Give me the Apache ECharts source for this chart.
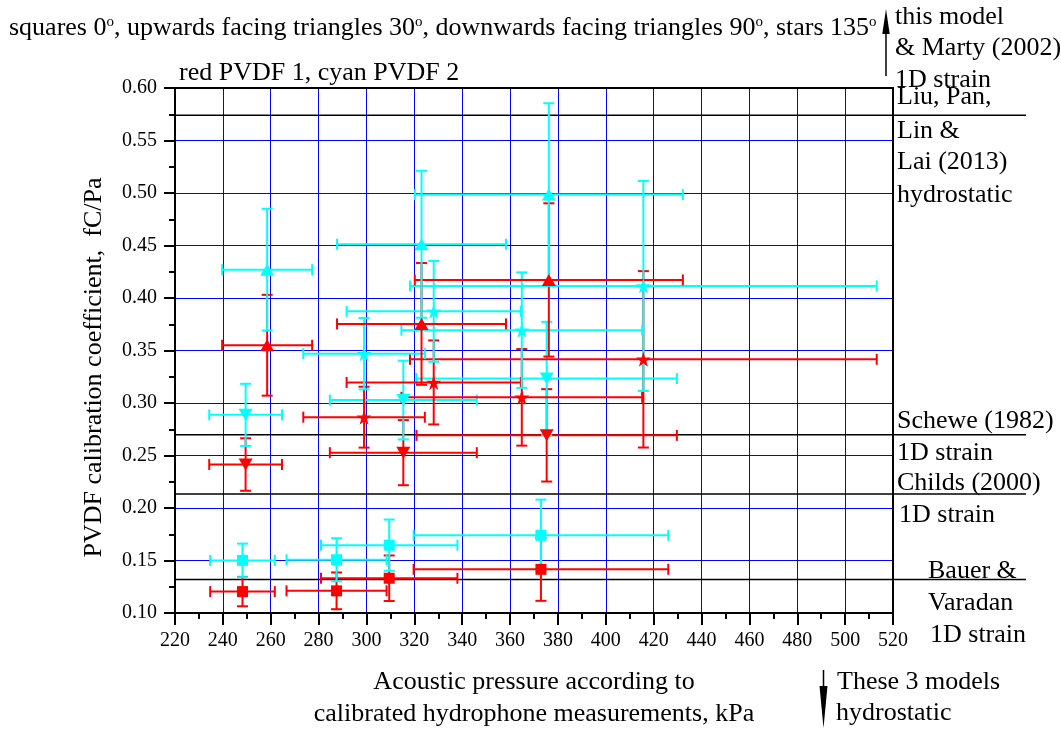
<!DOCTYPE html>
<html><head><meta charset="utf-8">
<script src="https://cdn.jsdelivr.net/npm/echarts@6/dist/echarts.min.js"></script>
<style>html,body{margin:0;padding:0;background:#fff}#c{width:1061px;height:735px}</style>
</head><body><div id="c"></div>
<script>
// ---- axis ranges / ticks ----
const xMin = 220, xMax = 520, xStep = 20;
const yMin = 0.10, yMax = 0.60, yStep = 0.05;

// ---- squares 0 deg ----
const sqX      = [248.2, 287.5, 309.5, 372.9];
const sqXerr   = [13.5, 20.9, 28.5, 53.2];
const sqRedY   = [0.1204, 0.1211, 0.1331, 0.1416];
const sqRedYerr= [0.014, 0.0175, 0.0217, 0.030];
const sqCyanY  = [0.1501, 0.1507, 0.1646, 0.174];
const sqCyanYerr=[0.016, 0.0205, 0.0244, 0.034];

// ---- upward triangles 30 deg ----
const upX      = [258.5, 323.0, 376.2];
const upXerr   = [18.8, 35.3, 56.0];
const upRedY   = [0.355, 0.3753, 0.4172];
const upRedYerr= [0.048, 0.058, 0.073];
const upCyanY  = [0.427, 0.4512, 0.4985];
const upCyanYerr=[0.058, 0.070, 0.087];

// ---- downward triangles 90 deg ----
const dnX      = [249.5, 315.4, 375.3];
const dnXerr   = [15.2, 30.7, 54.4];
const dnRedY   = [0.2414, 0.2527, 0.2692];
const dnRedYerr= [0.025, 0.031, 0.044];
const dnCyanY  = [0.2887, 0.3028, 0.3233];
const dnCyanYerr=[0.0296, 0.0375, 0.054];

// ---- stars 135 deg ----
const stX      = [299.0, 328.1, 364.9, 415.7];
const stXerr   = [25.4, 36.4, 50.3, 97.5];
const stRedY   = [0.2865, 0.3196, 0.3054, 0.3416];
const stRedYerr= [0.029, 0.040, 0.046, 0.084];
const stCyanY  = [0.347, 0.3873, 0.3694, 0.4115];
const stCyanYerr=[0.034, 0.048, 0.055, 0.100];

// ---- model reference levels (fC/Pa) ----
const refY = [0.5741, 0.2698, 0.2134, 0.1318];

const RED = '#ff0000', CYAN = '#00ffff';
const FONT = "'Liberation Serif','Times New Roman',serif";
const STAR = 'path://M50,0 L61,35 L98,35 L68,57 L79,91 L50,70 L21,91 L32,57 L2,35 L39,35 Z';

function errSeries(xs, xe, ys, ye, color) {
  return {
    type: 'custom', clip: false, z: 3, silent: true,
    data: xs.map((x, i) => [x, ys[i], xe[i], ye[i]]),
    encode: { x: 0, y: 1 },
    renderItem: function (params, api) {
      const x = api.value(0), y = api.value(1), dx = api.value(2), dy = api.value(3);
      const c = api.coord([x, y]);
      const l = api.coord([x - dx, y]), r = api.coord([x + dx, y]);
      const t = api.coord([x, y + dy]), b = api.coord([x, y - dy]);
      const cap = 5.5;
      const st = { stroke: color, lineWidth: 2, fill: null };
      const ln = (x1, y1, x2, y2) => ({ type: 'line', shape: { x1, y1, x2, y2 }, style: st });
      return { type: 'group', children: [
        ln(l[0], c[1], r[0], c[1]),
        ln(l[0], c[1] - cap, l[0], c[1] + cap),
        ln(r[0], c[1] - cap, r[0], c[1] + cap),
        ln(c[0], t[1], c[0], b[1]),
        ln(c[0] - cap, t[1], c[0] + cap, t[1]),
        ln(c[0] - cap, b[1], c[0] + cap, b[1])
      ]};
    }
  };
}
function markSeries(xs, ys, color, symbol, size, rot) {
  return { type: 'scatter', z: 4, silent: true, symbol: symbol, symbolSize: size, symbolRotate: rot || 0,
    data: xs.map((x, i) => [x, ys[i]]), itemStyle: { color: color, opacity: 1 } };
}

const series = [
  // reference lines
  { type: 'custom', clip: false, z: 2, silent: true,
    data: refY.map(v => [xMin, v]), encode: { x: 0, y: 1 },
    renderItem: function (params, api) {
      const p = api.coord([api.value(0), api.value(1)]);
      const cs = params.coordSys;
      return { type: 'line', shape: { x1: p[0], y1: p[1], x2: cs.x + cs.width + 133, y2: p[1] },
        style: { stroke: '#000', lineWidth: 1.5 } };
    } },
  errSeries(sqX, sqXerr, sqRedY, sqRedYerr, RED),
  markSeries(sqX, sqRedY, RED, 'rect', 11),
  errSeries(sqX, sqXerr, sqCyanY, sqCyanYerr, CYAN),
  markSeries(sqX, sqCyanY, CYAN, 'rect', 11),
  errSeries(dnX, dnXerr, dnRedY, dnRedYerr, RED),
  markSeries(dnX, dnRedY, RED, 'triangle', [14, 12], 180),
  errSeries(dnX, dnXerr, dnCyanY, dnCyanYerr, CYAN),
  markSeries(dnX, dnCyanY, CYAN, 'triangle', [14, 12], 180),
  errSeries(stX, stXerr, stRedY, stRedYerr, RED),
  markSeries(stX, stRedY, RED, STAR, 15),
  errSeries(stX, stXerr, stCyanY, stCyanYerr, CYAN),
  markSeries(stX, stCyanY, CYAN, STAR, 15),
  errSeries(upX, upXerr, upRedY, upRedYerr, RED),
  markSeries(upX, upRedY, RED, 'triangle', [14, 12]),
  errSeries(upX, upXerr, upCyanY, upCyanYerr, CYAN),
  markSeries(upX, upCyanY, CYAN, 'triangle', [14, 12])
];

function txt(s, x, y, extra) {
  return Object.assign({ type: 'text', x: x, y: y, z: 10, silent: true,
    style: { text: s, fill: '#000', fontSize: 26, fontFamily: FONT, align: 'left', verticalAlign: 'middle' } }, extra || {});
}
const sup = { s: { fontSize: 15, fontFamily: FONT, fill: '#000', verticalAlign: 'top' } };

const graphics = [
  { type: 'text', x: 9, y: 27.7, z: 10, silent: true,
    style: { text: 'squares 0{s|o}, upwards facing triangles 30{s|o}, downwards facing triangles 90{s|o}, stars 135{s|o}',
      rich: sup, fill: '#000', fontSize: 26, fontFamily: FONT, align: 'left', verticalAlign: 'middle' } },
  txt('red PVDF 1, cyan PVDF 2', 179, 73),
  txt('this model', 895, 17),
  txt('& Marty (2002)', 895, 48),
  txt('1D strain', 895, 80),
  txt('Liu, Pan,', 897, 97),
  txt('Lin &', 897, 131),
  txt('Lai (2013)', 897, 162),
  txt('hydrostatic', 897, 195),
  txt('Schewe (1982)', 897, 421.5),
  txt('1D strain', 897, 453),
  txt('Childs (2000)', 897, 483),
  txt('1D strain', 899, 515),
  txt('Bauer &', 928, 571.5),
  txt('Varadan', 928, 603),
  txt('1D strain', 930, 635),
  txt('These 3 models', 837, 682),
  txt('hydrostatic', 836, 713),
  // up arrow
  { type: 'line', silent: true, shape: { x1: 886, y1: 76, x2: 886, y2: 28 }, style: { stroke: '#000', lineWidth: 1.5 } },
  { type: 'polygon', silent: true, shape: { points: [[886, 9], [882.3, 34], [889.7, 34]] }, style: { fill: '#000' } },
  // down arrow
  { type: 'line', silent: true, shape: { x1: 823.5, y1: 670, x2: 823.5, y2: 700 }, style: { stroke: '#000', lineWidth: 1.5 } },
  { type: 'polygon', silent: true, shape: { points: [[823.5, 728], [819.5, 686], [827.5, 686]] }, style: { fill: '#000' } }
];

const axisLabelStyle = { color: '#000', fontSize: 20, fontFamily: FONT };
const option = {
  animation: false,
  backgroundColor: '#fff',
  textStyle: { fontFamily: FONT },
  grid: { left: 175, right: 168, top: 88, bottom: 118, containLabel: false, show: false },
  xAxis: [{
    type: 'value', min: xMin, max: xMax, interval: xStep, position: 'bottom',
    axisLine: { show: true, onZero: false, lineStyle: { color: '#000', width: 2 } },
    axisTick: { show: true, inside: false, length: 12, lineStyle: { color: '#000', width: 2 } },
    minorTick: { show: true, splitNumber: 2, length: 6, lineStyle: { color: '#000', width: 2 } },
    splitLine: { show: true, showMinLine: false, showMaxLine: false, lineStyle: { color: '#0000ff', width: 1 } },
    minorSplitLine: { show: false },
    axisLabel: Object.assign({ margin: 18 }, axisLabelStyle),
    name: 'Acoustic pressure according to\ncalibrated hydrophone measurements, kPa',
    nameLocation: 'middle', nameGap: 53,
    nameTextStyle: { color: '#000', fontSize: 26, fontFamily: FONT, lineHeight: 32 }
  }, {
    type: 'value', min: xMin, max: xMax, interval: xStep, position: 'top',
    axisLine: { show: true, onZero: false, lineStyle: { color: '#000', width: 2 } },
    axisTick: { show: false }, axisLabel: { show: false }, splitLine: { show: false }
  }],
  yAxis: [{
    type: 'value', min: yMin, max: yMax, interval: yStep, position: 'left',
    axisLine: { show: true, onZero: false, lineStyle: { color: '#000', width: 2 } },
    axisTick: { show: true, inside: false, length: 11, lineStyle: { color: '#000', width: 2 } },
    minorTick: { show: true, splitNumber: 2, length: 6, lineStyle: { color: '#000', width: 2 } },
    splitLine: { show: true, showMinLine: false, showMaxLine: false, lineStyle: { color: '#0000ff', width: 1 } },
    minorSplitLine: { show: false },
    axisLabel: Object.assign({ margin: 18, formatter: v => v.toFixed(2) }, axisLabelStyle),
    name: 'PVDF calibration coefficient,  fC/Pa',
    nameLocation: 'middle', nameGap: 68,
    nameTextStyle: { color: '#000', fontSize: 26, fontFamily: FONT, padding: [0, 34, 0, 0] }
  }, {
    type: 'value', min: yMin, max: yMax, interval: yStep, position: 'right',
    axisLine: { show: true, onZero: false, lineStyle: { color: '#000', width: 2 } },
    axisTick: { show: false }, axisLabel: { show: false }, splitLine: { show: false }
  }],
  series: series,
  graphic: graphics
};
const chart = echarts.init(document.getElementById('c'));
chart.setOption(option);
</script></body></html>
